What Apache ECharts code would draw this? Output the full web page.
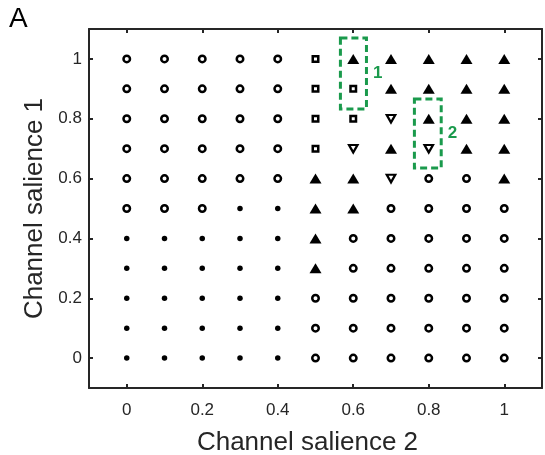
<!DOCTYPE html>
<html>
<head>
<meta charset="utf-8">
<script src="https://cdn.jsdelivr.net/npm/echarts@6/dist/echarts.min.js"></script>
<style>
  html, body { margin: 0; padding: 0; background: #fff; }
  #chart { width: 545px; height: 455px; }
</style>
</head>
<body>
<div id="chart"></div>
<script>
// Grid of salience levels
const salience2 = [0, 0.1, 0.2, 0.3, 0.4, 0.5, 0.6, 0.7, 0.8, 0.9, 1];
const salience1 = [1, 0.9, 0.8, 0.7, 0.6, 0.5, 0.4, 0.3, 0.2, 0.1, 0];
const tickValues = [0, 0.2, 0.4, 0.6, 0.8, 1];

// Outcome per cell, one row per salience-1 level (top row = 1).
// o: open circle, d: dot, s: open square, T: filled up-triangle, v: open down-triangle
const outcomeRows = [
  ['o','o','o','o','o','s','T','T','T','T','T'],
  ['o','o','o','o','o','s','s','T','T','T','T'],
  ['o','o','o','o','o','s','s','v','T','T','T'],
  ['o','o','o','o','o','s','v','T','v','T','T'],
  ['o','o','o','o','o','T','T','v','o','o','T'],
  ['o','o','o','d','d','T','T','o','o','o','o'],
  ['d','d','d','d','d','T','o','o','o','o','o'],
  ['d','d','d','d','d','T','o','o','o','o','o'],
  ['d','d','d','d','d','o','o','o','o','o','o'],
  ['d','d','d','d','d','o','o','o','o','o','o'],
  ['d','d','d','d','d','o','o','o','o','o','o']
];

// Highlighted cell pairs: [x0, y0, x1, y1] and label
const highlightBoxes = [
  { label: '1', area: [0.566, 0.833, 0.635, 1.07] },
  { label: '2', area: [0.762, 0.635, 0.833, 0.866] }
];

const green = '#1a9a4c';
const axisColor = '#262626';
const fontFamily = 'Liberation Sans, Arial, sans-serif';

function pointsOf(code) {
  const pts = [];
  outcomeRows.forEach((row, i) => {
    row.forEach((c, j) => {
      if (c === code) pts.push([salience2[j], salience1[i]]);
    });
  });
  return pts;
}

const openStyle = { color: '#fff', borderColor: '#000', borderWidth: 2.5, opacity: 1 };
const filledStyle = { color: '#000', borderWidth: 0, opacity: 1 };

const series = [
  { name: 'circle', type: 'scatter', symbol: 'circle', symbolSize: 6.5,
    itemStyle: openStyle, data: pointsOf('o') },
  { name: 'dot', type: 'scatter', symbol: 'circle', symbolSize: 5.5,
    itemStyle: filledStyle, data: pointsOf('d') },
  { name: 'square', type: 'scatter', symbol: 'rect', symbolSize: 5.5,
    itemStyle: openStyle, data: pointsOf('s') },
  { name: 'up', type: 'scatter', symbol: 'triangle', symbolSize: [12, 10],
    itemStyle: filledStyle, data: pointsOf('T') },
  { name: 'down', type: 'scatter', symbol: 'triangle', symbolRotate: 180, symbolSize: [8.5, 7.5],
    itemStyle: Object.assign({}, openStyle, { borderWidth: 2.2 }), data: pointsOf('v') },
  {
    name: 'boxes', type: 'scatter', data: [], silent: true,
    markArea: {
      silent: true,
      itemStyle: { color: 'rgba(0,0,0,0)', borderColor: green, borderWidth: 3, borderType: [7, 4], opacity: 1 },
      label: { show: true, position: 'right', distance: 5, color: green,
               fontFamily: fontFamily, fontWeight: 'bold', fontSize: 17 },
      data: highlightBoxes.map(b => [
        { name: b.label, coord: [b.area[0], b.area[3]] },
        { coord: [b.area[2], b.area[1]] }
      ])
    }
  }
];

const tickLabelStyle = { color: '#262626', fontSize: 17, fontFamily: fontFamily };
const nameStyle = { color: '#262626', fontSize: 26, fontFamily: fontFamily };

function baseAxis(extra) {
  return Object.assign({
    type: 'value', min: -0.1, max: 1.1,
    axisLine: { show: true, onZero: false, lineStyle: { color: axisColor, width: 2 } },
    axisTick: { show: true, inside: true, length: 4, customValues: tickValues, lineStyle: { color: axisColor, width: 2 } },
    splitLine: { show: false }
  }, extra);
}

const chart = echarts.init(document.getElementById('chart'), null, { renderer: 'canvas' });
chart.setOption({
  animation: false,
  backgroundColor: '#fff',
  grid: { left: 89, right: 3, top: 29, bottom: 67, containLabel: false, outerBoundsMode: 'none' },
  xAxis: [
    baseAxis({
      position: 'bottom',
      name: 'Channel salience 2', nameLocation: 'middle', nameGap: 42,
      nameTextStyle: Object.assign({ padding: [0, 16, 0, 0] }, nameStyle),
      axisLabel: Object.assign({ show: true, margin: 14, customValues: tickValues,
        formatter: v => String(v) }, tickLabelStyle)
    }),
    baseAxis({ position: 'top', axisLabel: { show: false } })
  ],
  yAxis: [
    baseAxis({
      position: 'left',
      name: 'Channel salience 1', nameLocation: 'middle', nameGap: 41, nameTextStyle: nameStyle,
      axisLabel: Object.assign({ show: true, margin: 7, customValues: tickValues,
        formatter: v => String(v) }, tickLabelStyle)
    }),
    baseAxis({ position: 'right', axisLabel: { show: false } })
  ],
  graphic: [{
    type: 'text', left: 9, top: 5,
    style: { text: 'A', fontSize: 28, fill: '#000', fontFamily: fontFamily }
  }],
  series: series
});
</script>
</body>
</html>
